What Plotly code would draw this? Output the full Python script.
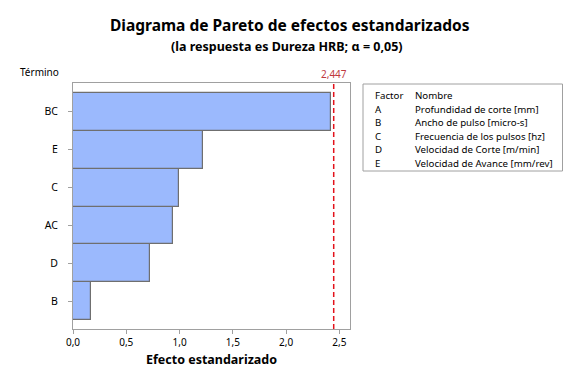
import plotly.graph_objects as go

terms = ["B", "D", "AC", "C", "E", "BC"]
effects = [0.171, 0.724, 0.938, 0.995, 1.22, 2.422]
critical = 2.447
x_ticks = [0.0, 0.5, 1.0, 1.5, 2.0, 2.5]
x_ticklabels = ["0,0", "0,5", "1,0", "1,5", "2,0", "2,5"]
factors = ["A", "B", "C", "D", "E"]
names = ["Profundidad de corte [mm]", "Ancho de pulso [micro-s]",
         "Frecuencia de los pulsos [hz]", "Velocidad de Corte [m/min]",
         "Velocidad de Avance [mm/rev]"]

FONT = "Noto Sans"
fig = go.Figure()
fig.add_trace(go.Bar(
    x=effects, y=list(range(len(terms))), orientation="h", width=1.0,
    marker=dict(color="#9bb9fd", line=dict(color="#6f6f6f", width=1.2)),
    showlegend=False, hoverinfo="skip",
))
fig.add_shape(type="line", x0=critical, x1=critical, y0=0, y1=1, yref="paper",
              line=dict(color="#e3121b", width=1.5, dash="5px,3px"))
fig.add_annotation(x=critical, y=1, yref="paper", text="2,447", showarrow=False,
                   xanchor="center", yanchor="bottom", font=dict(family=FONT, size=10, color="#c0393f"))

fig.update_layout(
    width=576, height=384,
    margin=dict(l=73, r=226, t=83, b=55),
    paper_bgcolor="white", plot_bgcolor="white",
    font=dict(family=FONT, size=10, color="#000000"),
    bargap=0,
)
fig.update_xaxes(range=[0, 2.6], tickvals=x_ticks, ticktext=x_ticklabels,
                 showgrid=False, zeroline=False, showline=True, linecolor="#a0a0a0",
                 linewidth=1, mirror=True, ticks="outside", tickcolor="#a0a0a0",
                 ticklen=4, tickfont=dict(size=10),
                 title=dict(text="<b>Efecto estandarizado</b>", font=dict(size=12.5), standoff=7))
fig.update_yaxes(range=[-0.73, 5.76], tickvals=list(range(len(terms))), ticktext=terms,
                 showgrid=False, zeroline=False, showline=True, linecolor="#a0a0a0",
                 linewidth=1, mirror=True, ticks="outside", tickcolor="#a0a0a0",
                 ticklen=4, tickfont=dict(size=10.5), ticklabelstandoff=8)

px = lambda X: (X - 73) / 277
py = lambda Y: 1 - (Y - 83) / 246

# Titles
fig.add_annotation(xref="paper", yref="paper", x=px(290), y=py(25),
                   text="<b>Diagrama de Pareto de efectos estandarizados</b>", showarrow=False,
                   xanchor="center", yanchor="middle",
                   font=dict(family=FONT, size=15.5, color="#000000"))
fig.add_annotation(xref="paper", yref="paper", x=px(287), y=py(46),
                   text="<b>(la respuesta es Dureza HRB; α = 0,05)</b>", showarrow=False,
                   xanchor="center", yanchor="middle",
                   font=dict(family=FONT, size=12.5, color="#000000"))
fig.add_annotation(xref="paper", yref="paper", x=px(39), y=py(72),
                   text="Término", showarrow=False, xanchor="center", yanchor="middle",
                   font=dict(family=FONT, size=10, color="#000000"))

# Legend box
fig.add_shape(type="rect", xref="paper", yref="paper", x0=px(363), x1=px(562.5),
              y0=py(171), y1=py(84), line=dict(color="#a0a0a0", width=1), fillcolor="white")
rows = [("Factor", "Nombre")] + list(zip(factors, names))
for i, (f, n) in enumerate(rows):
    yy = 95.5 + i * 13.5
    fig.add_annotation(xref="paper", yref="paper", x=px(373), y=py(yy), text=f,
                       showarrow=False, xanchor="left", yanchor="middle",
                       font=dict(family=FONT, size=9.7, color="#000000"))
    fig.add_annotation(xref="paper", yref="paper", x=px(413), y=py(yy), text=n,
                       showarrow=False, xanchor="left", yanchor="middle",
                       font=dict(family=FONT, size=9.7, color="#000000"))

fig.write_html("out.html")
